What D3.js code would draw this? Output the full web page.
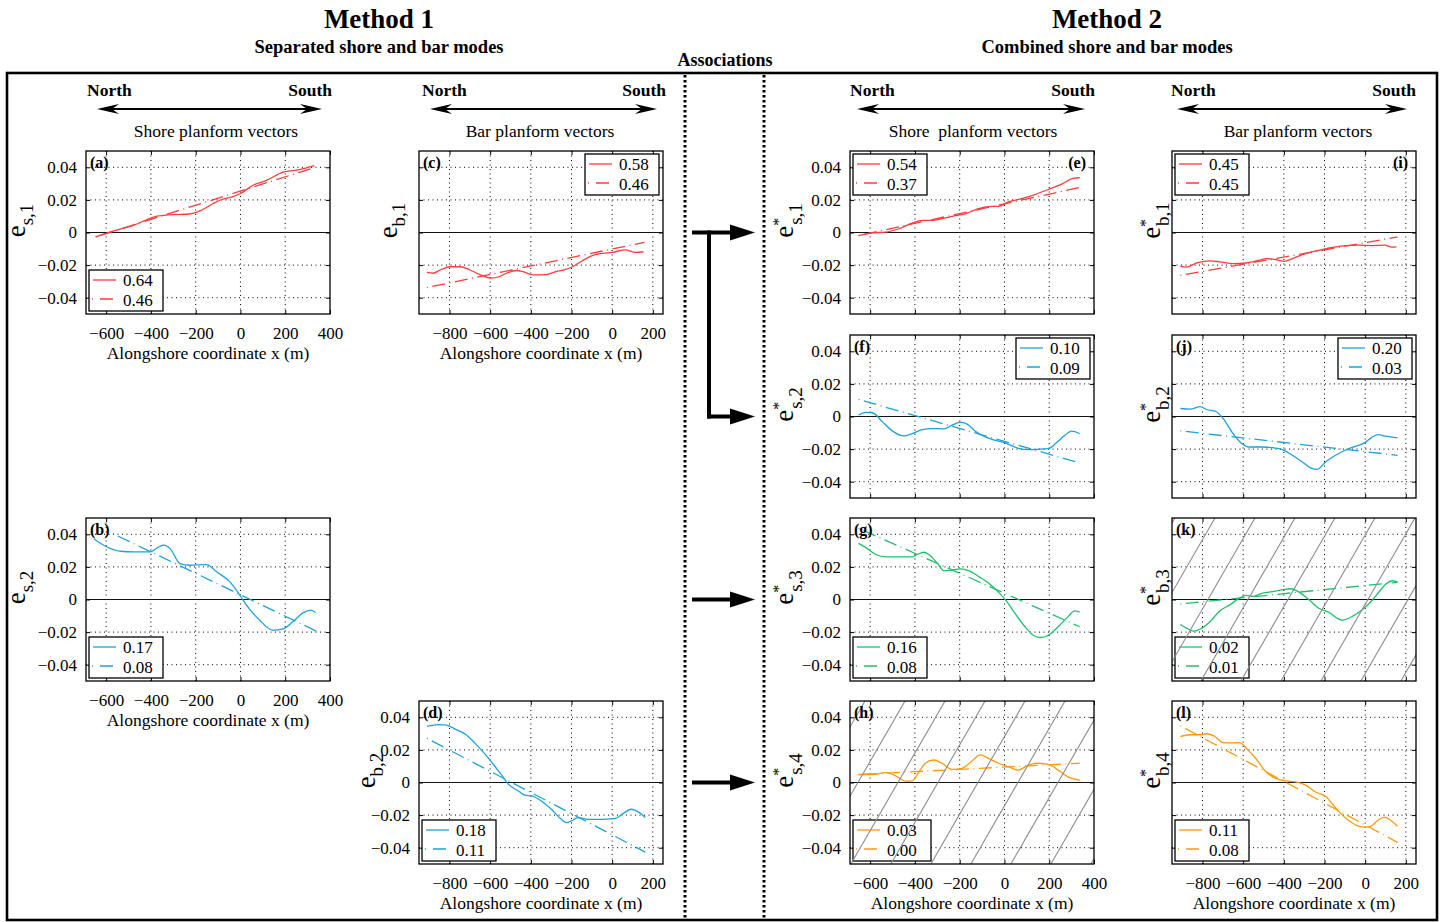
<!DOCTYPE html>
<meta charset="utf-8">
<style>
    body { margin: 0; background: #fff; }
    svg { display: block; font-family: "Liberation Serif", "DejaVu Serif", serif; }
</style>
<svg width="1442" height="922"></svg>
<script src="https://d3js.org/d3.v7.min.js"></script>
<script>

    // tick values
    var xTicksShore = [-600, -400, -200, 0, 200, 400],
        xTicksBar = [-800, -600, -400, -200, 0, 200],
        yTicks = [-0.04, -0.02, 0, 0.02, 0.04];

    // method 1, shore mode 1
    var a_x = [-647, -566, -477, -373, -299, -240, -181, -121, -92, -33, 0, 56, 116, 190, 264, 330],
        a_y = [-0.0027, 0.001, 0.0045, 0.010, 0.011, 0.0112, 0.0133, 0.0178, 0.0198, 0.022, 0.0239, 0.029, 0.032, 0.037, 0.0386, 0.041],
        a_fitX = [-647, 330], a_fitY = [-0.0027, 0.0398];

    // method 1, shore mode 2
    var b_x = [-655, -596, -536, -477, -403, -373, -344, -314, -270, -225, -151, -107, -47, -3, 27, 86, 145, 190, 234, 279, 316, 335],
        b_y = [0.0373, 0.0322, 0.0296, 0.0292, 0.0292, 0.0316, 0.0333, 0.0312, 0.022, 0.021, 0.0214, 0.017, 0.0108, 0.0027, -0.0035, -0.0127, -0.0188, -0.018, -0.0137, -0.0082, -0.0065, -0.008],
        b_fitX = [-570, 345], b_fitY = [0.0404, -0.0198];

    // method 1, bar mode 1
    var c_x = [-911, -881, -846, -797, -748, -699, -650, -593, -553, -520, -472, -439, -390, -325, -276, -236, -195, -146, -98, -49, 0, 65, 114, 154],
        c_y = [-0.0245, -0.025, -0.023, -0.021, -0.021, -0.023, -0.0258, -0.028, -0.027, -0.025, -0.0233, -0.024, -0.026, -0.0258, -0.024, -0.023, -0.021, -0.0173, -0.0142, -0.0128, -0.0122, -0.0107, -0.0122, -0.0118],
        c_fitX = [-911, 159], c_fitY = [-0.0338, -0.006];

    // method 1, bar mode 2
    var d_x = [-911, -854, -821, -772, -723, -674, -625, -576, -544, -511, -462, -429, -397, -348, -299, -250, -225, -201, -168, -119, -54, 11, 60, 93, 134, 163],
        d_y = [0.0345, 0.0355, 0.0353, 0.0328, 0.0297, 0.024, 0.0174, 0.0098, 0.0047, -0.001, -0.0051, -0.0078, -0.0082, -0.0113, -0.0164, -0.0226, -0.0246, -0.0236, -0.0215, -0.0226, -0.0226, -0.0222, -0.0185, -0.0164, -0.0185, -0.0215],
        d_fitX = [-911, 163], d_fitY = [0.0271, -0.0427];

    // method 2, shore part of modes 1-4
    var e_x = [-652, -590, -530, -471, -412, -367, -323, -279, -234, -175, -116, -56, -27, 18, 77, 136, 196, 255, 307, 336],
        e_y = [-0.0019, -0.0002, 0.0002, 0.0023, 0.0058, 0.0074, 0.0074, 0.0085, 0.0099, 0.0115, 0.0146, 0.016, 0.016, 0.0188, 0.0208, 0.0233, 0.0264, 0.0297, 0.0332, 0.0336],
        e_fitX = [-652, 336], e_fitY = [-0.0019, 0.0276];

    var f_x = [-652, -619, -590, -545, -501, -449, -412, -367, -323, -271, -234, -197, -167, -130, -86, -41, 3, 62, 107, 151, 196, 233, 270, 299, 336],
        f_y = [0.0008, 0.0025, 0.0023, -0.0033, -0.0088, -0.0119, -0.0105, -0.008, -0.0074, -0.0076, -0.0053, -0.0035, -0.0047, -0.009, -0.0125, -0.0146, -0.0162, -0.0195, -0.0203, -0.0201, -0.0197, -0.016, -0.0115, -0.009, -0.0105],
        f_fitX = [-652, 336], f_fitY = [0.0105, -0.0285];

    var g_x = [-652, -619, -575, -530, -471, -412, -390, -360, -338, -301, -271, -241, -197, -160, -116, -71, -27, 10, 47, 92, 129, 159, 196, 240, 284, 314, 336],
        g_y = [0.0344, 0.0318, 0.0276, 0.0262, 0.0262, 0.0262, 0.0276, 0.029, 0.0276, 0.0225, 0.0177, 0.018, 0.0188, 0.0177, 0.0142, 0.0101, 0.0045, -0.0012, -0.0085, -0.0167, -0.0219, -0.0233, -0.0219, -0.0167, -0.0105, -0.007, -0.0078],
        g_fitX = [-652, 336], g_fitY = [0.0437, -0.0167];

    var h_x = [-652, -590, -530, -486, -441, -412, -382, -353, -316, -279, -234, -190, -145, -108, -71, -27, 18, 62, 99, 144, 196, 240, 284, 336],
        h_y = [0.0049, 0.0049, 0.006, 0.0041, 0.0008, 0.001, 0.0066, 0.0118, 0.0138, 0.0118, 0.008, 0.0087, 0.0132, 0.0169, 0.0148, 0.0118, 0.0097, 0.0076, 0.0101, 0.0118, 0.0111, 0.0076, 0.0035, 0.0014],
        h_fitX = [-652, 336], h_fitY = [0.0049, 0.0118];

    // method 2, bar part of modes 1-4
    var i_x = [-909, -880, -828, -763, -715, -650, -585, -520, -488, -439, -398, -358, -293, -228, -163, -98, -33, 33, 98, 130, 154],
        i_y = [-0.0207, -0.0213, -0.0187, -0.0174, -0.018, -0.0191, -0.0187, -0.017, -0.016, -0.0166, -0.0177, -0.016, -0.0129, -0.0109, -0.0092, -0.008, -0.0078, -0.008, -0.0078, -0.009, -0.0088],
        i_fitX = [-909, 159], i_fitY = [-0.0263, -0.0027];

    var j_x = [-909, -860, -811, -780, -732, -699, -650, -610, -569, -504, -455, -407, -358, -309, -260, -236, -195, -146, -98, -49, -3, 29, 62, 102, 159],
        j_y = [0.0049, 0.0045, 0.006, 0.0043, 0.0029, -0.0012, -0.0105, -0.0162, -0.0187, -0.0187, -0.0191, -0.0203, -0.0238, -0.0279, -0.032, -0.0324, -0.0279, -0.0238, -0.0207, -0.0183, -0.0162, -0.0131, -0.0111, -0.0121, -0.0131],
        j_fitX = [-909, 159], j_fitY = [-0.0088, -0.0238];

    var k_x = [-909, -876, -844, -811, -763, -715, -666, -618, -585, -553, -504, -455, -407, -366, -325, -276, -228, -179, -138, -114, -65, -16, 29, 70, 102, 135, 159],
        k_y = [-0.0153, -0.0177, -0.0194, -0.0181, -0.0136, -0.007, -0.0033, 0.0008, 0.0025, 0.0019, 0.0039, 0.0049, 0.006, 0.0066, 0.0045, -0.0002, -0.0054, -0.0078, -0.0115, -0.0126, -0.0105, -0.0064, -0.0012, 0.0049, 0.0095, 0.0115, 0.0107],
        k_fitX = [-909, 159], k_fitY = [-0.0027, 0.0105];

    var l_x = [-909, -860, -811, -780, -739, -699, -650, -618, -577, -536, -488, -439, -390, -341, -293, -244, -195, -163, -130, -81, -41, 5, 29, 62, 94, 127, 159],
        l_y = [0.0282, 0.0293, 0.0293, 0.0299, 0.0282, 0.0245, 0.0243, 0.0245, 0.02, 0.0144, 0.0066, 0.0025, 0.001, 0.0004, -0.0016, -0.0058, -0.0085, -0.013, -0.0177, -0.0233, -0.0264, -0.0274, -0.0268, -0.0233, -0.0212, -0.0233, -0.0268],
        l_fitX = [-909, 159], l_fitY = [0.0348, -0.0367];

    // legend numbers (solid, dash-dot)
    var legendValues = {
        a: ["0.64", "0.46"], b: ["0.17", "0.08"], c: ["0.58", "0.46"], d: ["0.18", "0.11"],
        e: ["0.54", "0.37"], f: ["0.10", "0.09"], g: ["0.16", "0.08"], h: ["0.03", "0.00"],
        i: ["0.45", "0.45"], j: ["0.20", "0.03"], k: ["0.02", "0.01"], l: ["0.11", "0.08"]
    };

    var modeColors = ["#ff3b3b", "#1ca2d7", "#1fc06b", "#ff9a0a"];

    var svg = d3.select("svg");
    var W = 244, H = 163;
    var colLeft = [86, 419, 850, 1172],
        rowTop = [151, 335, 518, 701];

    var panels = [
        {id: "a", col: 0, row: 0, sub: "s,1", star: false, x: a_x, y: a_y, fx: a_fitX, fy: a_fitY, mode: 0, leg: "bl", lab: "tl", yl: true,  xl: true,  ylx: 25},
        {id: "b", col: 0, row: 2, sub: "s,2", star: false, x: b_x, y: b_y, fx: b_fitX, fy: b_fitY, mode: 1, leg: "bl", lab: "tl", yl: true,  xl: true,  ylx: 25},
        {id: "c", col: 1, row: 0, sub: "b,1", star: false, x: c_x, y: c_y, fx: c_fitX, fy: c_fitY, mode: 0, leg: "tr", lab: "tl", yl: false, xl: true,  ylx: 397},
        {id: "d", col: 1, row: 3, sub: "b,2", star: false, x: d_x, y: d_y, fx: d_fitX, fy: d_fitY, mode: 1, leg: "bl", lab: "tl", yl: true,  xl: true,  ylx: 375},
        {id: "e", col: 2, row: 0, sub: "s,1", star: true,  x: e_x, y: e_y, fx: e_fitX, fy: e_fitY, mode: 0, leg: "tl", lab: "tr", yl: true,  xl: false, ylx: 793},
        {id: "f", col: 2, row: 1, sub: "s,2", star: true,  x: f_x, y: f_y, fx: f_fitX, fy: f_fitY, mode: 1, leg: "tr", lab: "tl", yl: true,  xl: false, ylx: 793},
        {id: "g", col: 2, row: 2, sub: "s,3", star: true,  x: g_x, y: g_y, fx: g_fitX, fy: g_fitY, mode: 2, leg: "bl", lab: "tl", yl: true,  xl: false, ylx: 793},
        {id: "h", col: 2, row: 3, sub: "s,4", star: true,  x: h_x, y: h_y, fx: h_fitX, fy: h_fitY, mode: 3, leg: "bl", lab: "tl", yl: true,  xl: true,  ylx: 793, hatch: 865},
        {id: "i", col: 3, row: 0, sub: "b,1", star: true,  x: i_x, y: i_y, fx: i_fitX, fy: i_fitY, mode: 0, leg: "tl", lab: "tr", yl: false, xl: false, ylx: 1160},
        {id: "j", col: 3, row: 1, sub: "b,2", star: true,  x: j_x, y: j_y, fx: j_fitX, fy: j_fitY, mode: 1, leg: "tr", lab: "tl", yl: false, xl: false, ylx: 1160},
        {id: "k", col: 3, row: 2, sub: "b,3", star: true,  x: k_x, y: k_y, fx: k_fitX, fy: k_fitY, mode: 2, leg: "bl", lab: "tl", yl: false, xl: false, ylx: 1160, hatch: 1215},
        {id: "l", col: 3, row: 3, sub: "b,4", star: true,  x: l_x, y: l_y, fx: l_fitX, fy: l_fitY, mode: 3, leg: "bl", lab: "tl", yl: false, xl: true,  ylx: 1160}
    ];

    var defs = svg.append("defs");
    var fitDash = "1,4.5,13,4.5";

    panels.forEach(function(p) {
        var left = colLeft[p.col], top = rowTop[p.row];
        var bar = (p.col === 1 || p.col === 3);
        var x = d3.scaleLinear().domain(bar ? [-950, 250] : [-690, 400]).range([0, W]);
        var y = d3.scaleLinear().domain([-0.05, 0.05]).range([H, 0]);
        var xt = bar ? xTicksBar : xTicksShore;
        var color = modeColors[p.mode];

        defs.append("clipPath").attr("id", "clip-" + p.id)
            .append("rect").attr("width", W).attr("height", H);

        var g = svg.append("g").attr("transform", "translate(" + left + "," + top + ")");

        // dotted grid
        g.append("g").selectAll("line.gx").data(xt.filter(function(d) { return x(d) < W; })).enter()
            .append("line")
            .attr("x1", function(d) { return x(d); }).attr("x2", function(d) { return x(d); })
            .attr("y1", 0).attr("y2", H)
            .attr("stroke", "#000").attr("stroke-width", 1).attr("stroke-dasharray", "1,3.5");
        g.append("g").selectAll("line.gy").data(yTicks).enter()
            .append("line")
            .attr("y1", function(d) { return y(d); }).attr("y2", function(d) { return y(d); })
            .attr("x1", 0).attr("x2", W)
            .attr("stroke", "#000").attr("stroke-width", 1).attr("stroke-dasharray", "1,3.5");

        // zero line
        g.append("line").attr("x1", 0).attr("x2", W).attr("y1", y(0)).attr("y2", y(0))
            .attr("stroke", "#111").attr("stroke-width", 1.2);

        var line = d3.line()
            .curve(d3.curveMonotoneX)
            .x(function(d) { return x(d[0]); })
            .y(function(d) { return y(d[1]); });

        var plot = g.append("g").attr("clip-path", "url(#clip-" + p.id + ")");
        plot.append("path")
            .datum(d3.zip(p.fx, p.fy))
            .attr("d", line)
            .attr("fill", "none").attr("stroke", color).attr("stroke-width", 1.3)
            .attr("stroke-dasharray", fitDash);
        plot.append("path")
            .datum(d3.zip(p.x, p.y))
            .attr("d", line)
            .attr("fill", "none").attr("stroke", color).attr("stroke-width", 1.3);

        // axes, ticks inward on all four sides
        var fmtY = function(d) { return d === 0 ? "0" : d3.format(".2f")(d); };
        g.append("g").attr("transform", "translate(0," + H + ")")
            .call(d3.axisBottom(x).tickValues(xt).tickSize(-4).tickPadding(13)
                .tickFormat(p.xl ? d3.format("d") : function() { return ""; }));
        g.append("g")
            .call(d3.axisLeft(y).tickValues(yTicks).tickSize(-4).tickPadding(9)
                .tickFormat(p.yl ? fmtY : function() { return ""; }));
        g.append("g").call(d3.axisTop(x).tickValues(xt).tickSize(-4).tickFormat(""));
        g.append("g").attr("transform", "translate(" + W + ",0)")
            .call(d3.axisRight(y).tickValues(yTicks).tickSize(-4).tickFormat(""));
        g.selectAll(".domain").remove();
        g.selectAll(".tick line").attr("stroke", "#000").attr("stroke-width", 1);
        g.selectAll(".tick text").attr("font-family", null).attr("font-size", 17).attr("fill", "#000");
        g.selectAll("g").attr("font-family", null).attr("font-size", null);

        // legend
        var lw = (p.id === "h") ? 78 : 74, lh = 41;
        var lx = p.leg === "tr" ? W - 4 - lw : 3;
        var ly = p.leg === "bl" ? H - 3 - lh : 3;
        var lg = g.append("g").attr("transform", "translate(" + lx + "," + ly + ")");
        lg.append("rect").attr("width", lw).attr("height", lh)
            .attr("fill", "#fff").attr("stroke", "#000").attr("stroke-width", 1.3);
        lg.append("line").attr("x1", 4).attr("x2", 27).attr("y1", 10).attr("y2", 10)
            .attr("stroke", color).attr("stroke-width", 1.3);
        lg.append("line").attr("x1", 3).attr("x2", 27).attr("y1", 29).attr("y2", 29)
            .attr("stroke", color).attr("stroke-width", 1.3).attr("stroke-dasharray", "1,7,13,30");
        lg.selectAll("text").data(legendValues[p.id]).enter().append("text")
            .attr("x", 34).attr("y", function(d, i) { return 16 + i * 19.5; })
            .attr("font-size", 17).text(function(d) { return d; });

        // hatching for non-significant modes
        if (p.hatch) {
            var shift = H * Math.tan(Math.PI / 6);
            var hg = g.append("g").attr("clip-path", "url(#clip-" + p.id + ")");
            hg.selectAll("line").data(d3.range(-4, 10)).enter().append("line")
                .attr("x1", function(k) { return p.hatch - left + k * 40; })
                .attr("y1", 0)
                .attr("x2", function(k) { return p.hatch - left + k * 40 - shift; })
                .attr("y2", H)
                .attr("stroke", "#8c8c8c").attr("stroke-width", 1.1);
        }

        // frame
        g.append("rect").attr("width", W).attr("height", H)
            .attr("fill", "none").attr("stroke", "#000").attr("stroke-width", 1.3);

        // panel letter
        g.append("text")
            .attr("x", p.lab === "tr" ? W - 8 : 4).attr("y", 17)
            .attr("text-anchor", p.lab === "tr" ? "end" : "start")
            .attr("font-weight", "bold").attr("font-size", 16)
            .text("(" + p.id + ")");

        // x axis title
        if (p.xl) {
            g.append("text").attr("x", W / 2).attr("y", H + 45)
                .attr("text-anchor", "middle").attr("font-size", 17.5)
                .text("Alongshore coordinate x (m)");
        }

        // y axis title
        var yt = svg.append("text")
            .attr("transform", "translate(" + p.ylx + "," + (top + H / 2 - 12) + ") rotate(-90)")
            .attr("text-anchor", "middle");
        yt.append("tspan").attr("font-size", 27).text("e");
        if (p.star) {
            yt.append("tspan").attr("font-size", 16).attr("dy", -9).text("*");
            yt.append("tspan").attr("font-size", 19).attr("dx", -7).attr("dy", 18).text(p.sub);
        } else {
            yt.append("tspan").attr("font-size", 19).attr("dy", 8).text(p.sub);
        }
    });

    // titles
    function title(txt, cx, by, size) {
        svg.append("text").attr("x", cx).attr("y", by).attr("text-anchor", "middle")
            .attr("font-weight", "bold").attr("font-size", size).text(txt);
    }
    title("Method 1", 379, 28, 27);
    title("Separated shore and bar modes", 379, 53, 18.5);
    title("Associations", 725, 66, 18);
    title("Method 2", 1107, 28, 27);
    title("Combined shore and bar modes", 1107, 53, 18.5);

    // outer frame and separators
    svg.append("rect").attr("x", 7).attr("y", 73).attr("width", 1430).attr("height", 847)
        .attr("fill", "none").attr("stroke", "#000").attr("stroke-width", 2.6);
    [685, 764].forEach(function(xx) {
        svg.append("line").attr("x1", xx).attr("x2", xx).attr("y1", 75).attr("y2", 919)
            .attr("stroke", "#000").attr("stroke-width", 3).attr("stroke-dasharray", "2.5,2.5");
    });

    // north / south headers
    var headers = [
        {l: 87, r: 332, a0: 97, a1: 322, sub: "Shore planform vectors", cx: 216},
        {l: 422, r: 666, a0: 430, a1: 657, sub: "Bar planform vectors", cx: 540},
        {l: 850, r: 1095, a0: 857, a1: 1085, sub: "Shore\u00a0 planform vectors", cx: 973},
        {l: 1171, r: 1416, a0: 1177, a1: 1407, sub: "Bar planform vectors", cx: 1298}
    ];
    headers.forEach(function(h) {
        svg.append("text").attr("x", h.l).attr("y", 96).attr("font-weight", "bold")
            .attr("font-size", 17.5).text("North");
        svg.append("text").attr("x", h.r).attr("y", 96).attr("text-anchor", "end")
            .attr("font-weight", "bold").attr("font-size", 17.5).text("South");
        svg.append("line").attr("x1", h.a0 + 8).attr("x2", h.a1 - 8).attr("y1", 109).attr("y2", 109)
            .attr("stroke", "#000").attr("stroke-width", 2);
        svg.append("path")
            .attr("d", "M" + h.a0 + ",109 L" + (h.a0 + 22) + ",104 L" + (h.a0 + 15) + ",109 L" + (h.a0 + 22) + ",114 Z")
            .attr("fill", "#000");
        svg.append("path")
            .attr("d", "M" + h.a1 + ",109 L" + (h.a1 - 22) + ",104 L" + (h.a1 - 15) + ",109 L" + (h.a1 - 22) + ",114 Z")
            .attr("fill", "#000");
        svg.append("text").attr("x", h.cx).attr("y", 137).attr("text-anchor", "middle")
            .attr("font-size", 17.5).text(h.sub);
    });

    // association arrows, at the zero line of each row
    var zeroY = rowTop.map(function(t) { return t + H / 2; });
    function assocArrow(x0, yy) {
        svg.append("line").attr("x1", x0).attr("x2", 735).attr("y1", yy).attr("y2", yy)
            .attr("stroke", "#000").attr("stroke-width", 4);
        svg.append("path")
            .attr("d", "M755," + yy + " L730," + (yy - 8) + " L730," + (yy + 8) + " Z")
            .attr("fill", "#000");
    }
    assocArrow(692, zeroY[0]);
    svg.append("line").attr("x1", 709).attr("x2", 709).attr("y1", zeroY[0] - 2).attr("y2", zeroY[1] + 2)
        .attr("stroke", "#000").attr("stroke-width", 4);
    assocArrow(707, zeroY[1]);
    assocArrow(692, zeroY[2]);
    assocArrow(692, zeroY[3]);

</script>
